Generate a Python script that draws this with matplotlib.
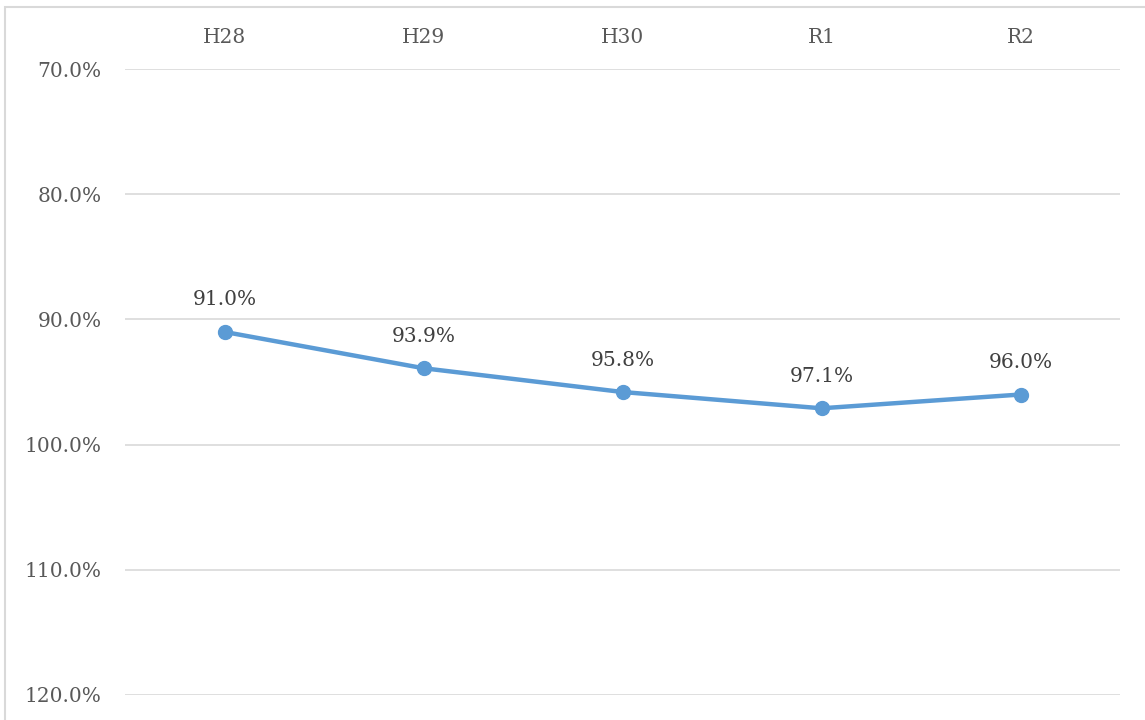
import matplotlib.pyplot as plt
from matplotlib.patches import Rectangle

years = ["H28", "H29", "H30", "R1", "R2"]
rates = [91.0, 93.9, 95.8, 97.1, 96.0]
yticks = [70, 80, 90, 100, 110, 120]

plt.rcParams["font.family"] = ["DejaVu Serif"]
text_color = "#595959"
label_color = "#404040"
line_color = "#5B9BD5"
fs = 14.5

fig = plt.figure(figsize=(11.45, 7.2), dpi=100)
ax = fig.add_axes([125 / 1145, 1 - 695 / 720, 995 / 1145, 626 / 720])

x = list(range(len(years)))
ax.plot(x, rates, color=line_color, linewidth=3.2, marker="o", markersize=10,
        solid_capstyle="round", zorder=3)
for xi, v in zip(x, rates):
    ax.annotate(f"{v:.1f}%", (xi, v), xytext=(0, 23), textcoords="offset points",
                ha="center", va="center", fontsize=fs, color=label_color)

ax.set_xlim(-0.5, len(years) - 0.5)
ax.set_ylim(120, 70)
ax.set_yticks(yticks)
ax.set_yticklabels([f"{t:.1f}%" for t in yticks])
ax.set_xticks(x)
ax.set_xticklabels(years)
ax.xaxis.tick_top()
ax.tick_params(axis="both", length=0, labelsize=fs, labelcolor=text_color)
ax.tick_params(axis="y", pad=17)
ax.tick_params(axis="x", pad=16)
ax.grid(axis="y", color="#D9D9D9", linewidth=1.2)
ax.set_axisbelow(True)
for s in ax.spines.values():
    s.set_visible(False)

# outer chart frame
fig.patches.append(Rectangle((5 / 1145, -0.1), 1.2, 1 - 7 / 720 + 0.1,
                             transform=fig.transFigure, fill=False,
                             edgecolor="#D9D9D9", linewidth=1.5))

fig.savefig("out.png", dpi=100)
